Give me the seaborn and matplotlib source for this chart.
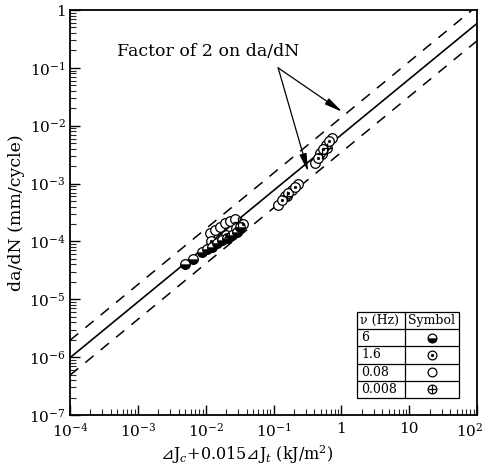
import numpy as np
import pandas as pd
import matplotlib
matplotlib.use("Agg")
import matplotlib.pyplot as plt
import matplotlib.transforms as mtrans
import seaborn as sns
from matplotlib.path import Path
from matplotlib.ticker import FixedLocator, LogLocator, NullFormatter

# ---------------- data ----------------
x_6hz = [0.0050, 0.0065, 0.0089, 0.0105, 0.0124, 0.0147, 0.0175, 0.0207, 0.0245, 0.029, 0.032]
y_6hz = [4.1e-5, 5.0e-5, 6.6e-5, 7.4e-5, 8.1e-5, 9.5e-5, 1.07e-4, 1.15e-4, 1.3e-4, 1.47e-4, 1.79e-4]

x_1p6 = [0.012, 0.020, 0.028, 0.035, 0.134, 0.164, 0.208, 0.455, 0.539, 0.661]
y_1p6 = [1.0e-4, 1.3e-4, 1.7e-4, 2.0e-4, 5.2e-4, 6.9e-4, 8.8e-4, 2.78e-3, 3.98e-3, 5.46e-3]

x_0p08 = [0.0115, 0.0137, 0.0163, 0.0193, 0.0228, 0.027, 0.117, 0.148, 0.188, 0.231, 0.411, 0.487, 0.597, 0.731]
y_0p08 = [1.41e-4, 1.59e-4, 1.79e-4, 2.1e-4, 2.27e-4, 2.46e-4, 4.3e-4, 6.1e-4, 7.8e-4, 9.9e-4, 2.28e-3, 3.39e-3, 4.66e-3, 6.15e-3]

x_0p008 = [0.022, 0.030, 0.160, 0.52, 0.62]
y_0p008 = [1.2e-4, 2.2e-4, 6.0e-4, 3.3e-3, 4.2e-3]

fit_coef = 6.95e-3
fit_exp = 0.963
factor = 2.0

x_ticks = [1e-4, 1e-3, 1e-2, 1e-1, 1, 10, 100]
x_ticklabels = [r"$10^{-4}$", r"$10^{-3}$", r"$10^{-2}$", r"$10^{-1}$", "1", "10", r"$10^{2}$"]
y_ticks = [1e-7, 1e-6, 1e-5, 1e-4, 1e-3, 1e-2, 1e-1, 1]
y_ticklabels = [r"$10^{-7}$", r"$10^{-6}$", r"$10^{-5}$", r"$10^{-4}$", r"$10^{-3}$", r"$10^{-2}$", r"$10^{-1}$", "1"]

legend_freqs = ["6", "1.6", "0.08", "0.008"]

# ---------------- style ----------------
sns.set_theme(style="white")
plt.rcParams["font.family"] = ["DejaVu Serif", "DejaVu Sans", "Noto Sans CJK JP"]
plt.rcParams["mathtext.fontset"] = "dejavuserif"

fig = plt.figure(figsize=(4.83, 4.70), dpi=100)
ax = fig.add_axes([70 / 483, 55 / 470, 407 / 483, 405 / 470])

# ---------------- lines ----------------
xs = np.array([1e-4, 1e2])
line_df = pd.DataFrame({
    "x": np.concatenate([xs, xs, xs]),
    "y": np.concatenate([fit_coef * xs ** fit_exp,
                         factor * fit_coef * xs ** fit_exp,
                         fit_coef * xs ** fit_exp / factor]),
    "kind": ["mean"] * 2 + ["upper"] * 2 + ["lower"] * 2,
})
sns.lineplot(data=line_df[line_df.kind == "mean"], x="x", y="y", color="black",
             lw=1.2, ax=ax, legend=False)
for k in ["upper", "lower"]:
    sns.lineplot(data=line_df[line_df.kind == k], x="x", y="y", color="black",
                 lw=1.1, ax=ax, legend=False, dashes=False, linestyle=(0, (7, 6)))

# ---------------- markers ----------------
ms = 48
lw = 0.9
half = Path.arc(180, 360)
half = Path(np.vstack([half.vertices, half.vertices[:1]]),
            np.concatenate([half.codes, [Path.CLOSEPOLY]]))

df6 = pd.DataFrame({"x": x_6hz, "y": y_6hz})
df16 = pd.DataFrame({"x": x_1p6, "y": y_1p6})
df008 = pd.DataFrame({"x": x_0p08, "y": y_0p08})
df0008 = pd.DataFrame({"x": x_0p008, "y": y_0p008})

for df in [df0008, df008, df16, df6]:
    sns.scatterplot(data=df, x="x", y="y", marker="o", s=ms, facecolor="white",
                    edgecolor="black", linewidth=lw, ax=ax, zorder=3)
sns.scatterplot(data=df6, x="x", y="y", marker=half, s=ms, facecolor="black",
                edgecolor="black", linewidth=0.3, ax=ax, zorder=4)
sns.scatterplot(data=df16, x="x", y="y", marker="o", s=4, facecolor="black",
                edgecolor="black", linewidth=0.3, ax=ax, zorder=4)
sns.scatterplot(data=df0008, x="x", y="y", marker="+", s=ms, color="black",
                linewidth=lw, ax=ax, zorder=4)

# ---------------- axes ----------------
ax.set_xscale("log")
ax.set_yscale("log")
ax.set_xlim(1e-4, 1e2)
ax.set_ylim(1e-7, 1)
ax.xaxis.set_major_locator(FixedLocator(x_ticks))
ax.set_xticklabels(x_ticklabels)
ax.yaxis.set_major_locator(FixedLocator(y_ticks))
ax.set_yticklabels(y_ticklabels)
ax.xaxis.set_minor_locator(LogLocator(base=10, subs=np.arange(2, 10), numticks=20))
ax.yaxis.set_minor_locator(LogLocator(base=10, subs=np.arange(2, 10), numticks=20))
ax.xaxis.set_minor_formatter(NullFormatter())
ax.yaxis.set_minor_formatter(NullFormatter())
ax.tick_params(which="major", direction="in", length=7, width=1.0, labelsize=11,
               colors="black", bottom=True, left=True, top=False, right=False)
ax.tick_params(which="minor", direction="in", length=4, width=0.8,
               bottom=True, left=True, top=False, right=False)
ax.tick_params(axis="x", pad=5)
ax.tick_params(axis="y", pad=3)
last = ax.get_xticklabels()[-1]
last.set_transform(last.get_transform() + mtrans.ScaledTranslation(-7 / 100, 0, fig.dpi_scale_trans))
for sp in ax.spines.values():
    sp.set_color("black")
    sp.set_linewidth(1.3)
ax.grid(False)

ax.set_ylabel("da/dN (mm/cycle)", fontsize=12.5, color="black", labelpad=3)
ax.set_xlabel(r"$\mathsf{⊿}$J$_c$+0.015$\mathsf{⊿}$J$_t$ (kJ/m$^2$)", fontsize=11.5,
              color="black")
ax.xaxis.set_label_coords(0.435, -0.07)

# ---------------- annotation ----------------
ax.text(0.0108, 0.188, "Factor of 2 on da/dN", fontsize=12.5, ha="center", va="center",
        color="black")
arrow_kw = dict(arrowstyle="-|>,head_length=0.9,head_width=0.18", lw=0.9,
                color="black", shrinkA=0, shrinkB=0)
ax.annotate("", xy=(1.03, 0.0174), xytext=(0.117, 0.1), arrowprops=arrow_kw)
ax.annotate("", xy=(0.324, 1.6e-3), xytext=(0.117, 0.1), arrowprops=arrow_kw)

# ---------------- legend table ----------------
tx0, tx1, tdiv = (357 - 70) / 407, (459 - 70) / 407, (405 - 70) / 407
ty1, ty0 = (415 - 312) / 405, (415 - 398) / 405
nrows = 5
rh = (ty1 - ty0) / nrows
tkw = dict(transform=ax.transAxes, color="black", lw=0.9, zorder=6)
ax.add_patch(plt.Rectangle((tx0, ty0), tx1 - tx0, ty1 - ty0, transform=ax.transAxes,
                           facecolor="white", edgecolor="black", lw=0.9, zorder=5))
ax.plot([tdiv, tdiv], [ty0, ty1], **tkw)
for i in range(1, nrows):
    ax.plot([tx0, tx1], [ty0 + i * rh, ty0 + i * rh], **tkw)
cx_r = (tdiv + tx1) / 2
tfs = 9
ax.text(tx0 + 0.008, ty1 - rh / 2, "ν (Hz)", transform=ax.transAxes, fontsize=tfs,
        ha="left", va="center", zorder=7, color="black")
ax.text(cx_r, ty1 - rh / 2, "Symbol", transform=ax.transAxes, fontsize=tfs,
        ha="center", va="center", zorder=7, color="black")
row_y = [ty1 - rh * (i + 1.5) for i in range(4)]
for f, yy in zip(legend_freqs, row_y):
    ax.text(tx0 + 0.01, yy, f, transform=ax.transAxes, fontsize=tfs, ha="left",
            va="center", zorder=7, color="black")
sk = dict(transform=ax.transAxes, zorder=8, clip_on=False)
ax.scatter([cx_r] * 4, row_y, marker="o", s=40, facecolor="white", edgecolor="black",
           linewidth=0.9, **sk)
ax.scatter([cx_r], [row_y[0]], marker=half, s=40, facecolor="black", edgecolor="black",
           linewidth=0.3, **sk)
ax.scatter([cx_r], [row_y[1]], marker="o", s=4, facecolor="black", edgecolor="black",
           linewidth=0.3, **sk)
ax.scatter([cx_r], [row_y[3]], marker="+", s=40, color="black", linewidth=0.9, **sk)

ax.set_xlim(1e-4, 1e2)
ax.set_ylim(1e-7, 1)

fig.savefig("out.png", dpi=100, facecolor="white")
